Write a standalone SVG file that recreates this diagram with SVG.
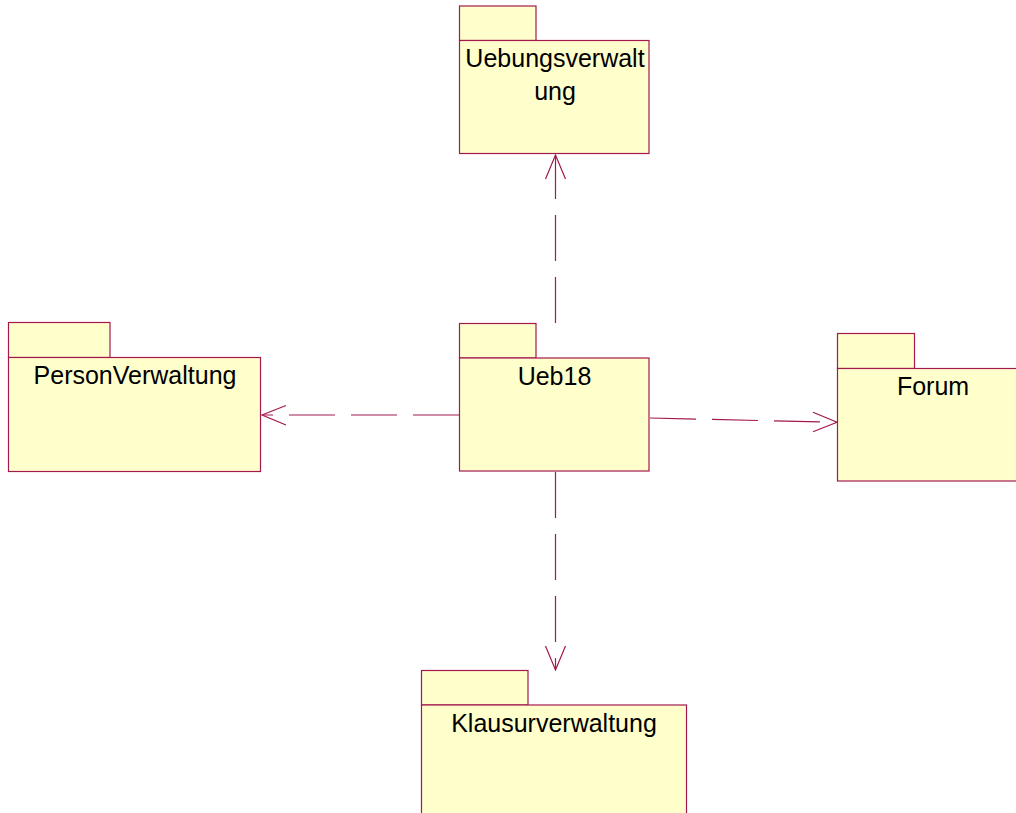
<svg xmlns="http://www.w3.org/2000/svg" width="1016" height="813" viewBox="0 0 1016 813">
<style>
.pkg{fill:#FFFFCC;stroke:#A3184F;stroke-width:1.2}
.lbl{font-family:"Liberation Sans",Arial,sans-serif;font-size:25px;fill:#000;text-anchor:middle}
.dep{fill:none;stroke:#A3184F;stroke-width:1.2;stroke-dasharray:46 16}
.head{fill:none;stroke:#A3184F;stroke-width:1.2}
</style>
<rect width="1016" height="813" fill="#fff"/>
<g id="connectors">
<line class="dep" x1="555.5" y1="323" x2="555.5" y2="155"/>
<polyline class="head" points="545.5,179 555.5,155 565.5,179"/>
<line class="dep" x1="459" y1="415" x2="262" y2="415"/>
<polyline class="head" points="286,405.5 262,415 286,425"/>
<line class="dep" x1="650" y1="418" x2="837" y2="422.3"/>
<polyline class="head" points="813,412.3 837,422.3 813,431.7"/>
<line class="dep" x1="555.5" y1="472" x2="555.5" y2="670"/>
<polyline class="head" points="545.5,646 555.5,670 565.5,646"/>
</g>
<g id="Uebungsverwaltung">
<rect class="pkg" x="459.5" y="6" width="76.5" height="34.5"/>
<rect class="pkg" x="459.5" y="40.5" width="189.5" height="113"/>
<text class="lbl" x="555" y="67">Uebungsverwalt</text>
<text class="lbl" x="555" y="100">ung</text>
</g>
<g id="PersonVerwaltung">
<rect class="pkg" x="8.5" y="322.5" width="101.5" height="35"/>
<rect class="pkg" x="8.5" y="357.5" width="252" height="114"/>
<text class="lbl" x="135" y="384">PersonVerwaltung</text>
</g>
<g id="Ueb18">
<rect class="pkg" x="459.5" y="323.5" width="76.5" height="34.5"/>
<rect class="pkg" x="459.5" y="358" width="189.5" height="113"/>
<text class="lbl" x="554.5" y="385">Ueb18</text>
</g>
<g id="Forum">
<rect class="pkg" x="837.5" y="333.5" width="77" height="35"/>
<rect class="pkg" x="837.5" y="368.5" width="190" height="112.5"/>
<text class="lbl" x="933" y="395">Forum</text>
</g>
<g id="Klausurverwaltung">
<rect class="pkg" x="421.5" y="670.5" width="106.5" height="34.5"/>
<rect class="pkg" x="421.5" y="705" width="265" height="120"/>
<text class="lbl" x="554" y="732">Klausurverwaltung</text>
</g>
</svg>
